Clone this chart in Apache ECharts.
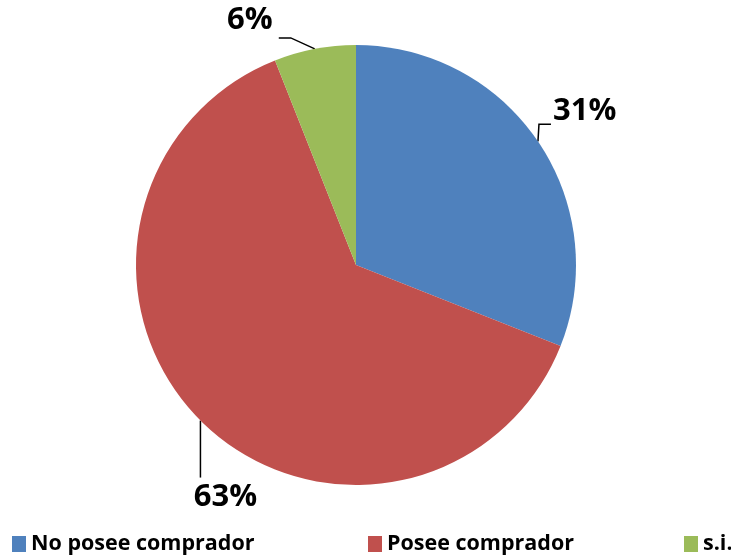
<!DOCTYPE html>
<html>
<head>
<meta charset="utf-8">
<script src="https://cdn.jsdelivr.net/npm/echarts@6/dist/echarts.min.js"></script>
<style>
  html, body { margin: 0; padding: 0; background: #fff; }
  #chart { width: 731px; height: 558px; }
</style>
</head>
<body>
<div id="chart"></div>
<script>
var categories = ['No posee comprador', 'Posee comprador', 's.i.'];
var values = [31, 63, 6];
var colors = ['#4F81BD', '#C0504D', '#9BBB59'];

var chart = echarts.init(document.getElementById('chart'));

var legendFont = {
  fontFamily: 'Open Sans',
  fontWeight: 'bold',
  fontSize: 21.5,
  color: '#000'
};

function makeLegend(i, left) {
  return {
    data: [categories[i]],
    left: left,
    top: 528,
    icon: 'rect',
    itemWidth: 14,
    itemHeight: 16,
    itemGap: 0,
    textStyle: legendFont,
    selectedMode: false
  };
}

// offsets for the label lines / text, relative to the point where the line leaves the pie
function placeLabel(params) {
  var p0 = params.labelLinePoints[0];
  if (params.dataIndex === 0) {
    var a = [p0[0] + 1, p0[1] - 17];
    var b = [a[0] + 12, a[1]];
    return { x: b[0] + 2, y: b[1] - 13, align: 'left', verticalAlign: 'middle', labelLinePoints: [p0, a, b] };
  }
  if (params.dataIndex === 1) {
    var c = [p0[0], p0[1] + 57];
    return { x: p0[0] + 25, y: p0[1] + 77, align: 'center', verticalAlign: 'middle', labelLinePoints: [p0, c, c] };
  }
  var d = [p0[0] - 24, p0[1] - 11];
  var e = [d[0] - 12, d[1]];
  return { x: e[0] - 6, y: e[1] - 18, align: 'right', verticalAlign: 'middle', labelLinePoints: [p0, d, e] };
}

var option = {
  animation: false,
  legend: [makeLegend(0, 7), makeLegend(1, 363), makeLegend(2, 679)],
  series: [
    {
      type: 'pie',
      center: [356, 265],
      radius: 220,
      startAngle: 90,
      clockwise: true,
      color: colors,
      data: categories.map(function (c, i) {
        return { name: c, value: values[i] };
      }),
      label: {
        show: true,
        position: 'outside',
        formatter: '{d}%',
        fontFamily: 'Open Sans',
        fontWeight: 'bold',
        fontSize: 31,
        color: '#000'
      },
      labelLine: {
        show: true,
        length: 16,
        length2: 14,
        lineStyle: { color: '#000', width: 1.5 }
      },
      labelLayout: placeLabel
    }
  ]
};

option && chart.setOption(option);
</script>
</body>
</html>
